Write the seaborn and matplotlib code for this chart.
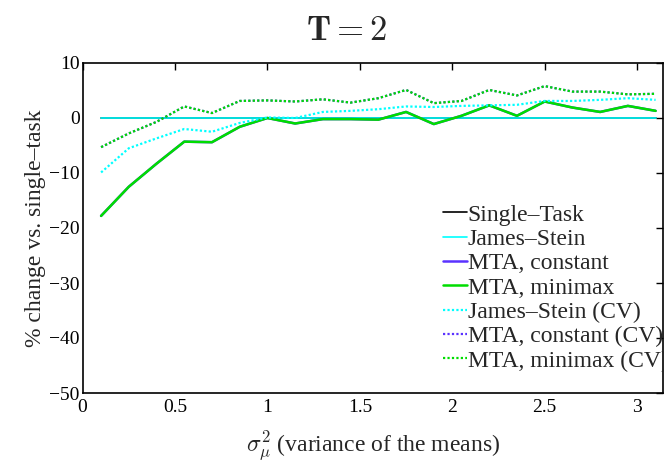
import matplotlib
matplotlib.use("Agg")
import matplotlib.pyplot as plt
import seaborn as sns
import pandas as pd

# ---- data ----
sigma2 = [0.10, 0.25, 0.40, 0.55, 0.70, 0.85, 1.00, 1.15, 1.30, 1.45, 1.60,
          1.75, 1.90, 2.05, 2.20, 2.35, 2.50, 2.65, 2.80, 2.95, 3.10]
single_task = [0.0] * 21
james_stein = [0.0] * 21
mta_constant = [-17.8, -12.5, -8.3, -4.3, -4.4, -1.6, 0.0, -1.0, -0.2, -0.2, -0.3,
                1.1, -1.1, 0.4, 2.3, 0.4, 3.0, 1.9, 1.1, 2.2, 1.3]
mta_minimax = [-17.8, -12.5, -8.3, -4.3, -4.4, -1.6, 0.0, -1.0, -0.2, -0.2, -0.3,
               1.1, -1.1, 0.4, 2.3, 0.4, 3.0, 1.9, 1.1, 2.2, 1.3]
js_cv = [-9.9, -5.5, -3.7, -2.0, -2.5, -0.9, 0.1, 0.0, 1.1, 1.3, 1.6,
         2.1, 2.0, 2.2, 2.3, 2.4, 3.1, 3.1, 3.3, 3.6, 3.3]
mta_constant_cv = [-5.3, -2.8, -0.7, 2.1, 0.9, 3.1, 3.2, 3.0, 3.4, 2.8, 3.6,
                   5.1, 2.7, 3.1, 5.1, 4.1, 5.8, 4.8, 4.8, 4.3, 4.4]
mta_minimax_cv = [-5.3, -2.8, -0.7, 2.1, 0.9, 3.1, 3.2, 3.0, 3.4, 2.8, 3.6,
                  5.1, 2.7, 3.1, 5.1, 4.1, 5.8, 4.8, 4.8, 4.3, 4.4]

labels = ["Single\u2013Task", "James\u2013Stein", "MTA, constant", "MTA, minimax",
          "James\u2013Stein (CV)", "MTA, constant (CV)", "MTA, minimax (CV)"]
series = [single_task, james_stein, mta_constant, mta_minimax,
          js_cv, mta_constant_cv, mta_minimax_cv]
colors = ["#000000", "#00FFFF", "#5A32FF", "#00DD00", "#00FFFF", "#5A32FF", "#00DD00"]
dashes_list = [False, False, False, False, True, True, True]
widths = [1.2, 1.2, 1.8, 1.8, 1.6, 1.6, 1.6]

rows = []
for lab, vals in zip(labels, series):
    for x, v in zip(sigma2, vals):
        rows.append({"x": x, "y": v, "method": lab})
df = pd.DataFrame(rows)

sns.set_style("white")
plt.rcParams["font.family"] = ["Liberation Serif", "DejaVu Serif"]
plt.rcParams["mathtext.fontset"] = "cm"
plt.rcParams["axes.unicode_minus"] = True

fig = plt.figure(figsize=(6.64, 4.61), dpi=100)
ax = fig.add_axes([82.6 / 664, 1 - 393 / 461, (663 - 82.6) / 664, (393 - 63) / 461])

for lab, col, dsh, lw in zip(labels, colors, dashes_list, widths):
    sub = df[df["method"] == lab]
    sns.lineplot(data=sub, x="x", y="y", ax=ax, color=col, lw=lw,
                 linestyle=(0, (1, 1)) if dsh else "-", label=lab, legend=False)

ax.set_xlim(0, 3.14)
ax.set_ylim(-50, 10)
ax.set_xticks([0, 0.5, 1, 1.5, 2, 2.5, 3])
ax.set_xticklabels(["0", "0.5", "1", "1.5", "2", "2.5", "3"])
ax.set_yticks([-50, -40, -30, -20, -10, 0, 10])
for s in ax.spines.values():
    s.set_color("black")
    s.set_linewidth(1.2)
ax.tick_params(direction="in", length=5, width=1.0, top=True, right=True,
               labelsize=14, colors="black", pad=2)
ax.tick_params(axis="x", pad=4)
ax.set_xlabel(r"$\sigma_\mu^2$ (variance of the means)", fontsize=17, labelpad=9)
ax.set_ylabel("% change vs. single\u2013task", fontsize=17, labelpad=2)

handles, labs = ax.get_legend_handles_labels()
leg = ax.legend(handles, labs, loc="upper left",
                bbox_to_anchor=(443 / 664, 1 - 204 / 461), bbox_transform=fig.transFigure,
                frameon=False, fontsize=17, handlelength=1.0, handletextpad=0.05,
                labelspacing=0.12, borderpad=0, borderaxespad=0)

fig.text(346 / 664, 1 - 31 / 461, r"$\mathbf{T = 2}$", ha="center", va="center", fontsize=25)

fig.savefig("out.png", dpi=100)
